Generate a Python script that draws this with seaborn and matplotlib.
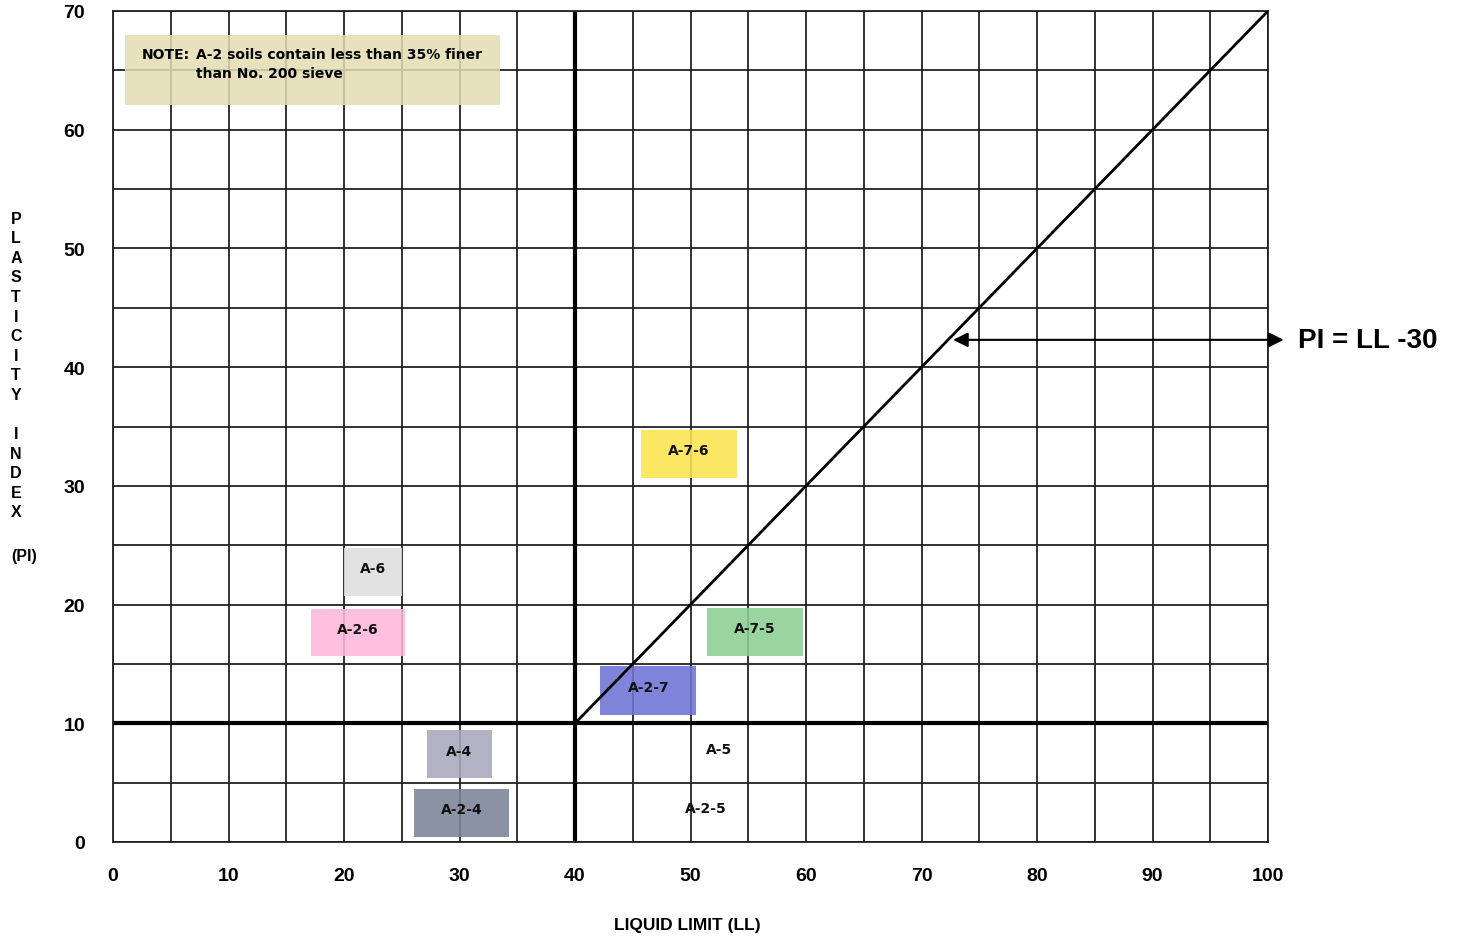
import matplotlib
matplotlib.use("Agg")
import matplotlib.pyplot as plt
from matplotlib.patches import Rectangle
import numpy as np
import pandas as pd
import seaborn as sns

# %% data
# A-line of the AASHTO chart: PI = LL - 30, starting at LL=40, PI=10
line_ll = [40, 100]
line_pi = [10, 70]

# soil group boxes (LL range, PI range)
group_names = ["A-7-6", "A-6", "A-2-6", "A-7-5", "A-2-7", "A-4", "A-2-4"]
group_ll_lo = [45.7, 20.0, 17.1, 51.4, 42.2, 27.2, 26.1]
group_ll_hi = [54.0, 25.0, 25.3, 59.7, 50.5, 32.8, 34.3]
group_pi_lo = [30.7, 20.7, 15.7, 15.7, 10.7, 5.4, 0.4]
group_pi_hi = [34.7, 24.8, 19.6, 19.7, 14.8, 9.4, 4.5]

# groups without a shaded box
plain_names = ["A-5", "A-2-5"]
plain_ll = [52.5, 51.3]
plain_pi = [7.8, 2.9]

x_ticks = [0, 10, 20, 30, 40, 50, 60, 70, 80, 90, 100]
y_ticks = [0, 10, 20, 30, 40, 50, 60, 70]

group_colors = {
    "A-7-6": "#fbe44e",
    "A-6": "#dedede",
    "A-2-6": "#ffb6da",
    "A-7-5": "#8ccf92",
    "A-2-7": "#6d72d4",
    "A-4": "#a9a8bd",
    "A-2-4": "#7b8396",
}

# %% plot
sns.set_style("white")
plt.rcParams["font.family"] = ["Liberation Sans", "DejaVu Sans"]
plt.rcParams["text.color"] = "k"
plt.rcParams["xtick.color"] = "k"
plt.rcParams["ytick.color"] = "k"

fig = plt.figure(figsize=(14.62, 9.37), dpi=100)
ax = fig.add_axes([113 / 1462, 1 - 843 / 937, 1155 / 1462, 831 / 937])

# grid every 5 units
for gx in np.arange(0, 101, 5):
    ax.axvline(gx, color="#222222", linewidth=1.3, zorder=1)
for gy in np.arange(0, 71, 5):
    ax.axhline(gy, color="#222222", linewidth=1.3, zorder=1)

# heavy boundary lines
ax.axvline(40, color="k", linewidth=3, zorder=2)
ax.axhline(10, color="k", linewidth=3, zorder=2)

# shaded boxes for groups
for name, x0, x1, y0, y1 in zip(group_names, group_ll_lo, group_ll_hi, group_pi_lo, group_pi_hi):
    ax.add_patch(
        Rectangle((x0, y0), x1 - x0, y1 - y0, facecolor=group_colors[name],
                  edgecolor="none", alpha=0.88, zorder=3)
    )
    ax.text((x0 + x1) / 2, (y0 + y1) / 2 + 0.3, name, ha="center", va="center",
            fontsize=10, fontweight="bold", family="DejaVu Sans", color="#111111", zorder=5)

for name, x, y in zip(plain_names, plain_ll, plain_pi):
    ax.text(x, y, name, ha="center", va="center", fontsize=10, fontweight="bold",
            family="DejaVu Sans", color="#111111", zorder=5)

# note box
ax.add_patch(Rectangle((1, 62.1), 32.5, 5.9, facecolor="#e4dcb2", edgecolor="none",
                       alpha=0.85, zorder=3))
ax.text(2.5, 67.0, "NOTE:", fontsize=10, fontweight="bold", family="DejaVu Sans",
        va="top", zorder=5)
ax.text(7.2, 67.0, "A-2 soils contain less than 35% finer\nthan No. 200 sieve",
        fontsize=10, fontweight="bold", family="DejaVu Sans", va="top",
        linespacing=1.5, zorder=5)

# PI = LL - 30 line
sns.lineplot(x=line_ll, y=line_pi, ax=ax, color="k", linewidth=2, zorder=4)

# arrow + label
ax.annotate("", xy=(72.5, 42.3), xytext=(101.6, 42.3),
            arrowprops=dict(arrowstyle="<|-|>", color="k", lw=1.5, mutation_scale=22),
            annotation_clip=False, zorder=6)
ax.text(102.6, 42.3, "PI = LL -30", fontsize=20, fontweight="bold", va="center",
        ha="left", clip_on=False)

ax.set_xlim(0, 100)
ax.set_ylim(0, 70)
ax.set_xticks(x_ticks)
ax.set_yticks(y_ticks)
ax.set_xticklabels([str(t) for t in x_ticks], fontsize=14, fontweight="bold")
ax.set_yticklabels([str(t) for t in y_ticks], fontsize=14, fontweight="bold")
ax.tick_params(axis="x", length=0, pad=18)
ax.tick_params(axis="y", length=0, pad=20)
for sp in ax.spines.values():
    sp.set_color("#222222")
    sp.set_linewidth(1.3)

# axis labels
fig.text(687 / 1462, 1 - 926 / 937, "LIQUID LIMIT (LL)", ha="center", va="center",
         fontsize=12.5, fontweight="bold")
fig.text(16 / 1462, 1 - 366 / 937, "P\nL\nA\nS\nT\nI\nC\nI\nT\nY\n\nI\nN\nD\nE\nX",
         ha="center", va="center", fontsize=11.5, fontweight="bold", linespacing=1.38)
fig.text(24 / 1462, 1 - 557 / 937, "(PI)", ha="center", va="center",
         fontsize=11.5, fontweight="bold")

plt.savefig("out.png", dpi=100)
